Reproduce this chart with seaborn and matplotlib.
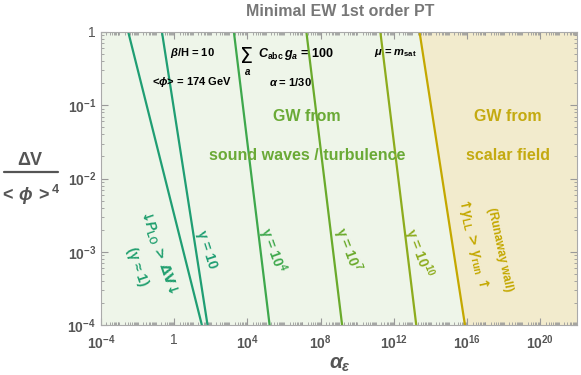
import numpy as np
import pandas as pd
import matplotlib
matplotlib.use('Agg')
import matplotlib.pyplot as plt
import matplotlib.ticker as mticker
from matplotlib.lines import Line2D
import seaborn as sns

sns.set_style('ticks')
plt.rcParams['font.family'] = ['Liberation Sans', 'DejaVu Sans']
plt.rcParams['mathtext.fontset'] = 'custom'
plt.rcParams['mathtext.rm'] = 'Liberation Sans:bold'
plt.rcParams['mathtext.bf'] = 'Liberation Sans:bold'
plt.rcParams['mathtext.it'] = 'Liberation Sans:italic:bold'
plt.rcParams['mathtext.sf'] = 'Liberation Sans:bold'

# boundary lines in the (alpha_eps, dV/<phi>^4) plane, straight in log-log
line_names = ['plo', 'g10', 'g1e4', 'g1e7', 'g1e10', 'run']
log_alpha_top = [-2.51, -0.67, 3.26, 7.22, 11.26, 13.4]      # at dV = 1
log_alpha_bottom = [1.51, 1.82, 5.21, 9.17, 13.22, 15.88]    # at dV = 1e-4
dv_top = 1.0
dv_bottom = 1e-4
line_colors = ['#1f9e73', '#1f9e73', '#3ea84c', '#6aaa2c', '#8dac1e', '#c4a800']

x_ticks_log = [-4, 0, 4, 8, 12, 16, 20]
y_ticks_log = [-4, -3, -2, -1, 0]

rows = []
for name, lt, lb in zip(line_names, log_alpha_top, log_alpha_bottom):
    rows.append({'line': name, 'alpha': 10**lt, 'dV': dv_top})
    rows.append({'line': name, 'alpha': 10**lb, 'dV': dv_bottom})
df = pd.DataFrame(rows)

fig = plt.figure(figsize=(5.81, 3.75), dpi=100)
ax = fig.add_axes([0.1738, 0.1333, 0.8193, 0.7814])
ax.set_xscale('log')
ax.set_yscale('log')

# shaded regions split by the runaway line
yy = np.array([dv_bottom, dv_top])
run_x = np.array([10**log_alpha_bottom[-1], 10**log_alpha_top[-1]])
ax.fill_betweenx(yy, 1e-4, run_x, color='#eef5e9', lw=0, zorder=0)
ax.fill_betweenx(yy, run_x, 1e22, color='#f2ebcd', lw=0, zorder=0)

sns.lineplot(data=df, x='alpha', y='dV', hue='line', palette=dict(zip(line_names, line_colors)),
             estimator=None, sort=False, lw=1.6, legend=False, ax=ax, zorder=2)

ax.set_xlim(1e-4, 1e22)
ax.set_ylim(1e-4, 1)

gray = '#555555'
ax.xaxis.set_major_locator(mticker.FixedLocator([10.0**k for k in x_ticks_log]))
ax.xaxis.set_minor_locator(mticker.LogLocator(base=10, subs=np.arange(1, 10), numticks=1000))
ax.yaxis.set_major_locator(mticker.FixedLocator([10.0**k for k in y_ticks_log]))
ax.yaxis.set_minor_locator(mticker.LogLocator(base=10, subs=np.arange(2, 10), numticks=1000))
ax.xaxis.set_minor_formatter(mticker.NullFormatter())
ax.yaxis.set_minor_formatter(mticker.NullFormatter())

def lab(k):
    return '1' if k == 0 else r'$10^{%d}$' % k

ax.set_xticklabels([lab(k) for k in x_ticks_log])
ax.set_yticklabels([lab(k) for k in y_ticks_log])
ax.tick_params(which='both', direction='in', top=True, right=True, color='#999999',
               labelcolor=gray, labelsize=10)
ax.tick_params(which='major', length=5, width=0.8)
ax.tick_params(which='minor', length=2.5, width=0.6)
ax.tick_params(axis='x', which='major', pad=6)
for s in ax.spines.values():
    s.set_color('#aaaaaa')
    s.set_linewidth(0.8)
ax.set_xlabel('')
ax.set_ylabel('')

fig.text(0.585, 0.027, r'$\alpha_\epsilon$', ha='center', va='center', fontsize=15, color=gray)
fig.text(0.052, 0.573, 'ΔV', ha='center', va='center', fontsize=13, color=gray, fontweight='bold')
fig.add_artist(Line2D([0.007, 0.100], [0.541, 0.541], color=gray, lw=1.6))
fig.text(0.052, 0.48, r'$<\,\phi\,>^4$', ha='center', va='center', fontsize=13, color=gray)

fig.text(0.585, 0.968, 'Minimal EW 1st order PT', ha='center', va='center',
         fontsize=11.5, fontweight='bold', color='#777777')

# parameter annotations
kw = dict(transform=ax.transAxes, ha='center', va='center', fontsize=8, color='black', fontweight='bold')
ax.text(0.193, 0.928, r'$\beta$/H = 10', **kw)
ax.text(0.306, 0.915, 'Σ', transform=ax.transAxes, ha='center', va='center', fontsize=15,
        color='black', family=['DejaVu Sans'])
ax.text(0.308, 0.862, r'$a$', transform=ax.transAxes, ha='center', va='center', fontsize=7,
        color='black')
ax.text(0.410, 0.925, r'$C_{\rm abc}\, g_a$ = 100', transform=ax.transAxes, ha='center',
        va='center', fontsize=9, color='black', fontweight='bold')
ax.text(0.618, 0.928, r'$\mu$ = $m_{\rm sat}$', **kw)
ax.text(0.191, 0.829, r'<$\phi$> = 174 GeV', **kw)
ax.text(0.397, 0.829, r'$\alpha$ = 1/30', **kw)

# region labels
gk = dict(transform=ax.transAxes, ha='center', va='center', fontsize=11.5, fontweight='bold')
ax.text(0.433, 0.710, 'GW from', color='#6aaa36', **gk)
ax.text(0.433, 0.577, 'sound waves / turbulence', color='#6aaa36', **gk)
ax.text(0.855, 0.710, 'GW from', color='#c4aa10', **gk)
ax.text(0.855, 0.577, 'scalar field', color='#c4aa10', **gk)

# labels along the lines
rk = dict(transform=ax.transAxes, ha='center', va='center', fontsize=10, fontweight='bold')
ax.text(0.122, 0.249, r'↓$P_{\rm LO}$ > ΔV↓', rotation=-71, color='#22a070',
        family=['DejaVu Sans'], **rk)
ax.text(0.076, 0.198, '(γ ≈ 1)', rotation=-71, color='#22a070', **rk)
ax.text(0.223, 0.256, 'γ = 10', rotation=-72, color='#1f9e73', **rk)
ax.text(0.359, 0.256, r'γ = $10^4$', rotation=-70, color='#3ea84c', **rk)
ax.text(0.517, 0.256, r'γ = $10^7$', rotation=-69, color='#6aaa2c', **rk)
ax.text(0.666, 0.246, r'γ = $10^{10}$', rotation=-69, color='#8dac1e', **rk)
ax.text(0.782, 0.280, r'↑$\gamma_{\rm LL}$ > $\gamma_{\rm run}$ ↑', rotation=-77, color='#c4a800',
        family=['DejaVu Sans'], **rk)
ax.text(0.838, 0.256, '(Runaway wall)', rotation=-78, color='#c4a800', transform=ax.transAxes,
        ha='center', va='center', fontsize=8.5, fontweight='bold')

fig.savefig('out.png', dpi=100)
